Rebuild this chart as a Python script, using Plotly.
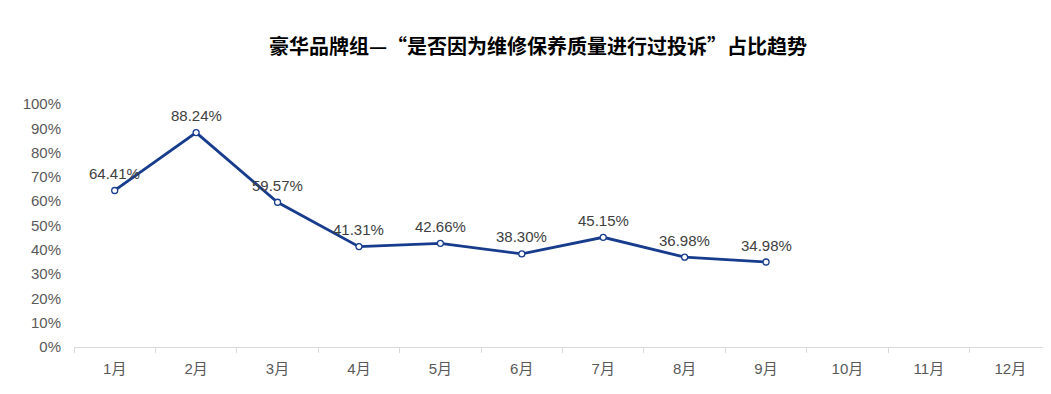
import plotly.graph_objects as go

months = ["1月", "2月", "3月", "4月", "5月", "6月", "7月", "8月", "9月", "10月", "11月", "12月"]
values = [64.41, 88.24, 59.57, 41.31, 42.66, 38.30, 45.15, 36.98, 34.98, None, None, None]
labels = [f"{v:.2f}%" if v is not None else "" for v in values]
y_ticks = list(range(0, 101, 10))
y_tick_text = [f"{t}%" for t in y_ticks]

LINE = "#173C8D"
fig = go.Figure()
fig.add_trace(go.Scatter(
    x=months, y=values, mode="lines+markers",
    line=dict(color=LINE, width=2.8),
    marker=dict(size=6, color="white", line=dict(color=LINE, width=1.3)),
    cliponaxis=False, connectgaps=False, hoverinfo="skip",
))

for m, v, t in zip(months, values, labels):
    if v is None:
        continue
    fig.add_annotation(
        x=m, y=v, text=t, showarrow=False, yshift=17,
        font=dict(size=15, color="#404040", family="Liberation Sans, Arial, sans-serif"),
    )

fig.update_layout(
    width=1051, height=394,
    margin=dict(l=66, r=8, t=96, b=55),
    paper_bgcolor="white", plot_bgcolor="white",
    showlegend=False,
    title=dict(
        text="豪华品牌组—“是否因为维修保养质量进行过投诉”占比趋势",
        x=530 / 1051, xanchor="center", y=1 - 39 / 394, yanchor="middle",
        font=dict(size=20, color="#000000", family="Noto Sans CJK SC, sans-serif", weight="bold"),
    ),
    font=dict(family="Liberation Sans, Arial, Noto Sans CJK SC, sans-serif", color="#595959"),
)
fig.update_xaxes(
    type="category", range=[-0.5, 11.5],
    showline=True, linecolor="#D9D9D9", linewidth=1,
    ticks="outside", ticklen=5, tickcolor="#D9D9D9", tickson="boundaries",
    showgrid=False, zeroline=False, ticklabelstandoff=8,
    tickfont=dict(size=15, color="#595959", family="Liberation Sans, Noto Sans CJK SC, sans-serif"),
)
fig.update_yaxes(
    range=[0, 100], tickvals=y_ticks, ticktext=y_tick_text,
    showgrid=False, zeroline=False, showline=False, ticks="",
    ticklabelstandoff=12,
    tickfont=dict(size=15, color="#595959", family="Liberation Sans, Arial, sans-serif"),
)

fig.write_html("out.html")
